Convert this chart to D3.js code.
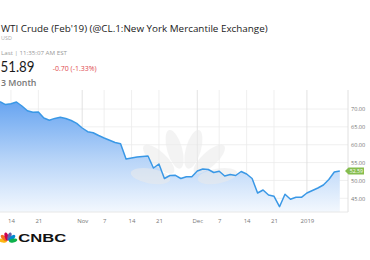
<!DOCTYPE html>
<html><head><meta charset="utf-8">
<script src="https://cdn.jsdelivr.net/npm/d3@7/dist/d3.min.js"></script>
<style>html,body{margin:0;padding:0;background:#fff;}svg{display:block;font-family:"Open Sans",Lato,sans-serif;}</style>
</head><body>
<script>
const dates = ["2018-10-11","2018-10-12","2018-10-15","2018-10-16","2018-10-17","2018-10-18","2018-10-19","2018-10-22","2018-10-23","2018-10-24","2018-10-25","2018-10-26","2018-10-29","2018-10-30","2018-10-31",
"2018-11-01","2018-11-02","2018-11-05","2018-11-06","2018-11-07","2018-11-08","2018-11-09","2018-11-12","2018-11-13","2018-11-14","2018-11-15","2018-11-16","2018-11-19","2018-11-20","2018-11-21","2018-11-23","2018-11-26","2018-11-27","2018-11-28","2018-11-29","2018-11-30",
"2018-12-03","2018-12-04","2018-12-05","2018-12-06","2018-12-07","2018-12-10","2018-12-11","2018-12-12","2018-12-13","2018-12-14","2018-12-17","2018-12-18","2018-12-19","2018-12-20","2018-12-21","2018-12-24","2018-12-26","2018-12-27","2018-12-28","2018-12-31",
"2019-01-02","2019-01-03","2019-01-04","2019-01-07","2019-01-08","2019-01-09","2019-01-10"];
const prices = [72.04,71.23,71.46,71.96,70.84,69.50,69.08,69.16,67.48,66.86,
67.37,67.70,67.34,66.78,65.97,64.68,63.64,63.36,62.58,61.88,
61.24,60.62,60.26,56.00,56.28,56.56,56.70,56.84,53.48,54.60,
50.54,51.38,51.44,50.54,51.05,51.05,52.64,53.20,53.06,52.22,
52.59,51.24,51.66,51.38,52.50,51.80,50.54,46.48,47.32,45.92,
45.56,42.65,46.12,44.72,45.28,45.28,46.48,47.18,47.88,48.72,
50.26,52.36,52.64];
const xTickDates = ["2018-10-15","2018-10-22","2018-11-01","2018-11-07","2018-11-14","2018-11-21","2018-12-03","2018-12-07","2018-12-14","2018-12-21","2019-01-02"];
const xTickLabels = ["14","21","Nov","7","14","21","Dec","7","14","21","2019"];
const monthTicks = ["Nov","Dec","2019"];
const yTicks = [45,50,55,60,65,70];
const lastPrice = "51.89", change = "-0.70 (-1.33%)", badgeLabel = "52.59";
const title = "WTI Crude (Feb'19) (@CL.1:New York Mercantile Exchange)";

const W=370,H=260, plotTop=90, plotBottom=212, plotRight=348;
const svg = d3.select("body").append("svg").attr("width",W).attr("height",H);
const x = d3.scalePoint().domain(dates).range([0,339.8]);
const y = d3.scaleLinear().domain([45,70]).range([198.3,109]);
const data = dates.map((d,i)=>({d, v:prices[i]}));

// header
svg.append("text").attr("x",1).attr("y",32).attr("font-size",9.85).attr("fill","#222").text(title);
svg.append("text").attr("x",1).attr("y",39.6).attr("font-size",5.4).attr("fill","#aaa").text("USD");
svg.append("text").attr("x",1).attr("y",54.8).attr("font-size",5.4).attr("fill","#999")
  .attr("textLength",66).attr("lengthAdjust","spacingAndGlyphs").text("Last | 11:35:07 AM EST");
svg.append("text").attr("x",0.5).attr("y",72).attr("font-size",15.4).attr("font-family","Lato,'Open Sans',sans-serif")
  .attr("fill","#1a1a1a").attr("textLength",34).attr("lengthAdjust","spacingAndGlyphs").text(lastPrice);
svg.append("text").attr("x",52.7).attr("y",71.3).attr("font-size",7).attr("fill","#e0474c").text(change);
svg.append("text").attr("x",1).attr("y",86).attr("font-size",8.8).attr("font-weight",600).attr("fill","#777").text("3 Month");

const defs = svg.append("defs");
const g = defs.append("linearGradient").attr("id","ag").attr("gradientUnits","userSpaceOnUse")
  .attr("x1",0).attr("x2",0).attr("y1",95).attr("y2",plotBottom);
g.append("stop").attr("offset",0).attr("stop-color","#5e9ff0");
g.append("stop").attr("offset",0.55).attr("stop-color","#b7d4f8");
g.append("stop").attr("offset",1).attr("stop-color","#f3f8fe");

// grid
const grid = svg.append("g");
grid.selectAll(".hg").data(yTicks).join("line").attr("x1",0).attr("x2",plotRight)
  .attr("y1",d=>y(d)).attr("y2",d=>y(d)).attr("stroke","#ececec").attr("stroke-width",0.8);
grid.selectAll(".vg").data(xTickDates).join("line")
  .attr("x1",d=>x(d)).attr("x2",d=>x(d)).attr("y1",plotTop).attr("y2",plotBottom)
  .attr("stroke",(d,i)=>monthTicks.includes(xTickLabels[i])?"#dcdcdc":"#ebebeb").attr("stroke-width",0.8);

// area
svg.append("path").datum(data).attr("fill","url(#ag)")
  .attr("d", d3.area().x(d=>x(d.d)).y0(plotBottom).y1(d=>y(d.v)));

// watermark peacock
const wm = svg.append("g").attr("transform","translate(184,182)").attr("opacity",0.55);
[-80,-48,-16,16,48,80].forEach(a=>{
  wm.append("ellipse").attr("cx",0).attr("cy",-34).attr("rx",7.5).attr("ry",20)
    .attr("transform",`rotate(${a})`).attr("fill","#ebebeb");
});

// line
svg.append("path").datum(data).attr("fill","none").attr("stroke","#3a98e6").attr("stroke-width",1.5)
  .attr("stroke-linejoin","round")
  .attr("d", d3.line().x(d=>x(d.d)).y(d=>y(d.v)));

// axes lines
svg.append("line").attr("x1",plotRight).attr("x2",plotRight).attr("y1",plotTop).attr("y2",plotBottom).attr("stroke","#d8d8d8").attr("stroke-width",0.8);
svg.append("line").attr("x1",0).attr("x2",plotRight).attr("y1",plotBottom).attr("y2",plotBottom).attr("stroke","#e2e2e2").attr("stroke-width",0.8);

// y axis labels
const ya = svg.append("g").attr("transform",`translate(${plotRight},0)`)
  .call(d3.axisRight(y).tickValues(yTicks).tickFormat(d3.format(".2f")).tickSize(0).tickPadding(3));
ya.select(".domain").remove();
ya.selectAll("text").attr("font-size",5.6).attr("fill","#777").attr("font-family","'Open Sans',sans-serif");

// x axis labels
const xa = svg.append("g").attr("transform",`translate(0,${plotBottom})`)
  .call(d3.axisBottom(x).tickValues(xTickDates).tickFormat((d,i)=>xTickLabels[i]).tickSize(0).tickPadding(7));
xa.select(".domain").remove();
xa.selectAll("text").attr("font-size",6).attr("fill","#777").attr("font-family","'Open Sans',sans-serif");

// badge
const last = data[data.length-1];
const by = y(last.v);
svg.append("path").attr("d",`M345,${by} L348.5,${by-3.5} L364,${by-3.5} L364,${by+3.5} L348.5,${by+3.5} Z`).attr("fill","#86bd4e");
svg.append("text").attr("x",356.3).attr("y",by+1.9).attr("text-anchor","middle").attr("font-size",5.2).attr("fill","#fff").text(badgeLabel);

// CNBC logo
const logo = svg.append("g").attr("transform","translate(8,241.5)");
const cols = ["#fcb711","#f37021","#cc004c","#6460aa","#0089d0","#0db14b"];
[-80,-48,-16,16,48,80].forEach((a,i)=>{
  logo.append("ellipse").attr("cx",0).attr("cy",-5.2).attr("rx",1.9).attr("ry",4.2)
    .attr("transform",`rotate(${a})`).attr("fill",cols[i]);
});
svg.append("text").attr("x",18.3).attr("y",241.8).attr("font-size",11).attr("font-weight",900)
  .attr("font-family","'Liberation Sans',Arial,sans-serif").attr("fill","#111")
  .attr("textLength",48).attr("lengthAdjust","spacingAndGlyphs").text("CNBC");
</script>
</body></html>
